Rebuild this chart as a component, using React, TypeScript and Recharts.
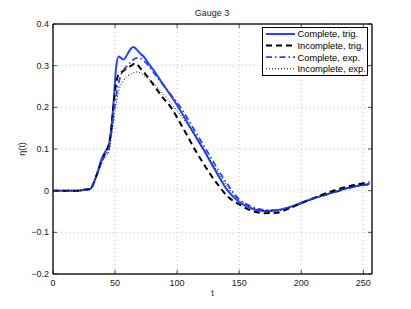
import React from 'react';
import { LineChart, Line, XAxis, YAxis, CartesianGrid, Legend, ReferenceArea } from 'recharts';

const tValues = [0, 10, 20, 25, 30, 33, 36, 39, 42, 45, 47, 49, 51, 53, 55, 57, 60, 63, 65, 67, 70, 73, 77, 82, 88, 95, 101, 108, 115, 121, 128, 134, 140, 150, 160, 170, 180, 190, 200, 210, 220, 230, 240, 250, 255];

const completeTrig = [0, 0, 0, 0.002, 0.004, 0.02, 0.045, 0.075, 0.093, 0.11, 0.15, 0.22, 0.3, 0.322, 0.318, 0.315, 0.328, 0.342, 0.345, 0.34, 0.33, 0.322, 0.305, 0.285, 0.258, 0.228, 0.2, 0.165, 0.13, 0.1, 0.063, 0.032, 0.003, -0.027, -0.043, -0.049, -0.047, -0.04, -0.029, -0.018, -0.009, 0.0, 0.008, 0.014, 0.016];

const incompleteTrig = [0, 0, 0, 0.002, 0.004, 0.02, 0.045, 0.07, 0.09, 0.11, 0.15, 0.21, 0.26, 0.28, 0.284, 0.288, 0.295, 0.3, 0.304, 0.305, 0.295, 0.285, 0.27, 0.25, 0.225, 0.2, 0.17, 0.133, 0.095, 0.066, 0.034, 0.01, -0.012, -0.033, -0.048, -0.054, -0.053, -0.043, -0.03, -0.018, -0.006, 0.004, 0.012, 0.018, 0.02];

const completeExp = [0, 0, 0, 0.002, 0.004, 0.02, 0.045, 0.07, 0.085, 0.1, 0.14, 0.19, 0.23, 0.26, 0.28, 0.29, 0.3, 0.31, 0.315, 0.318, 0.318, 0.312, 0.3, 0.28, 0.257, 0.23, 0.207, 0.175, 0.14, 0.11, 0.075, 0.045, 0.018, -0.021, -0.038, -0.046, -0.047, -0.04, -0.03, -0.019, -0.01, -0.001, 0.007, 0.013, 0.015];

const incompleteExp = [0, 0, 0, 0.002, 0.004, 0.02, 0.04, 0.065, 0.08, 0.095, 0.13, 0.17, 0.21, 0.24, 0.255, 0.265, 0.275, 0.28, 0.283, 0.285, 0.283, 0.277, 0.268, 0.255, 0.235, 0.21, 0.188, 0.16, 0.128, 0.1, 0.067, 0.038, 0.012, -0.022, -0.04, -0.048, -0.049, -0.042, -0.031, -0.02, -0.01, -0.001, 0.008, 0.014, 0.016];

const xTicks = [0, 50, 100, 150, 200, 250];
const yTicks = [-0.2, -0.1, 0, 0.1, 0.2, 0.3, 0.4];
const xDomain: [number, number] = [0, 257];
const yDomain: [number, number] = [-0.2, 0.4];

const seriesNames = ['Complete, trig.', 'Incomplete, trig.', 'Complete, exp.', 'Incomplete, exp.'];

const data = tValues.map((t, i) => ({
  t,
  ct: completeTrig[i],
  it: incompleteTrig[i],
  ce: completeExp[i],
  ie: incompleteExp[i],
}));

const BLUE = '#2444ff';
const series = [
  { key: 'ct', name: seriesNames[0], color: BLUE, dash: undefined as string | undefined, width: 2 },
  { key: 'it', name: seriesNames[1], color: '#000', dash: '6 4', width: 2 },
  { key: 'ce', name: seriesNames[2], color: BLUE, dash: '6 3 1.5 3', width: 1.8 },
  { key: 'ie', name: seriesNames[3], color: '#000', dash: '1 2', width: 1 },
];

const FONT = 'Liberation Sans, Arial, sans-serif';
const AX = '#222';

const fmtY = (v: number) => {
  if (Math.abs(v) < 1e-9) return '0';
  const s = Math.abs(v).toFixed(1);
  return v < 0 ? '\u2212' + s : s;
};

const XTickBottom = (props: any) => {
  const { x, y, payload } = props;
  return (
    <g>
      <line x1={x} x2={x} y1={y} y2={y - 4} stroke={AX} strokeWidth={0.8} />
      <text x={x} y={y + 12} textAnchor="middle" fontSize={9} fontFamily={FONT} fill={AX}>
        {payload.value}
      </text>
    </g>
  );
};

const XTickTop = (props: any) => {
  const { x, y } = props;
  return <line x1={x} x2={x} y1={y} y2={y + 4} stroke={AX} strokeWidth={0.8} />;
};

const YTickLeft = (props: any) => {
  const { x, y, payload } = props;
  return (
    <g>
      <line x1={x} x2={x + 4} y1={y} y2={y} stroke={AX} strokeWidth={0.8} />
      <text x={x - 4} y={y} dy={3} textAnchor="end" fontSize={9} fontFamily={FONT} fill={AX}>
        {fmtY(payload.value)}
      </text>
    </g>
  );
};

const YTickRight = (props: any) => {
  const { x, y } = props;
  return <line x1={x} x2={x - 4} y1={y} y2={y} stroke={AX} strokeWidth={0.8} />;
};

const LegendBox = () => (
  <svg width={107} height={50} style={{ display: 'block' }}>
    <rect x={0.5} y={0.5} width={105} height={48} fill="#fff" stroke="#000" strokeWidth={1} />
    {series.map((s, i) => {
      const cy = 7 + i * 11.6;
      return (
        <g key={s.key}>
          <line x1={4} x2={33} y1={cy} y2={cy} stroke={s.color} strokeWidth={s.width} strokeDasharray={s.dash} />
          <text x={35.5} y={cy} dy={3.3} fontSize={9.3} fontFamily={FONT} fill="#000">
            {s.name}
          </text>
        </g>
      );
    })}
  </svg>
);

export default function App() {
  return (
    <div style={{ position: 'absolute', left: 0, top: 0, width: 411, height: 309, background: '#fff' }}>
      <div
        style={{
          position: 'absolute',
          left: 162,
          top: 7,
          width: 100,
          textAlign: 'center',
          fontFamily: FONT,
          fontSize: 9,
          lineHeight: '12px',
          color: AX,
        }}
      >
        Gauge 3
      </div>
      <LineChart width={411} height={309} data={data} margin={{ top: 23, right: 38, bottom: 5, left: 0 }}>
        <CartesianGrid stroke="#b5b5b5" strokeDasharray="1 3" strokeWidth={0.8} />
        <XAxis
          dataKey="t"
          type="number"
          domain={xDomain}
          ticks={xTicks}
          allowDataOverflow
          height={30}
          tickSize={0}
          tickMargin={0}
          tick={XTickBottom}
          axisLine={{ stroke: AX }}
          label={{ value: 't', position: 'insideBottom', offset: 8, fontSize: 9, fill: AX, fontFamily: FONT }}
        />
        <XAxis
          xAxisId="top"
          orientation="top"
          dataKey="t"
          type="number"
          domain={xDomain}
          ticks={xTicks}
          allowDataOverflow
          height={1}
          tickSize={0}
          tickMargin={0}
          tick={XTickTop}
          axisLine={{ stroke: AX }}
        />
        <YAxis
          type="number"
          domain={yDomain}
          ticks={yTicks}
          allowDataOverflow
          width={53}
          tickSize={0}
          tickMargin={0}
          tick={YTickLeft}
          axisLine={{ stroke: AX }}
          label={{
            value: '\u03b7(t)',
            angle: -90,
            position: 'insideLeft',
            offset: 22,
            fontSize: 9,
            fill: AX,
            fontFamily: FONT,
            style: { textAnchor: 'middle' },
          }}
        />
        <YAxis
          yAxisId="right"
          orientation="right"
          type="number"
          domain={yDomain}
          ticks={yTicks}
          allowDataOverflow
          width={1}
          tickSize={0}
          tickMargin={0}
          tick={YTickRight}
          axisLine={{ stroke: AX }}
        />
        <ReferenceArea
          x1={xDomain[0]}
          x2={xDomain[1]}
          y1={yDomain[0]}
          y2={yDomain[1]}
          fill="none"
          fillOpacity={0}
          stroke={AX}
          strokeWidth={1}
          ifOverflow="visible"
        />
        <Legend
          layout="horizontal"
          verticalAlign="middle"
          align="center"
          content={() => <LegendBox />}
          wrapperStyle={{ position: 'absolute', left: 262, top: 27, width: 107, height: 50 }}
        />
        <Line
          xAxisId="top"
          yAxisId="right"
          dataKey="ct"
          legendType="none"
          stroke="none"
          strokeWidth={0}
          dot={false}
          activeDot={false}
          isAnimationActive={false}
        />
        {series.map((s) => (
          <Line
            key={s.key}
            dataKey={s.key}
            name={s.name}
            type="monotone"
            stroke={s.color}
            strokeWidth={s.width}
            strokeDasharray={s.dash}
            dot={false}
            activeDot={false}
            isAnimationActive={false}
          />
        ))}
      </LineChart>
    </div>
  );
}
